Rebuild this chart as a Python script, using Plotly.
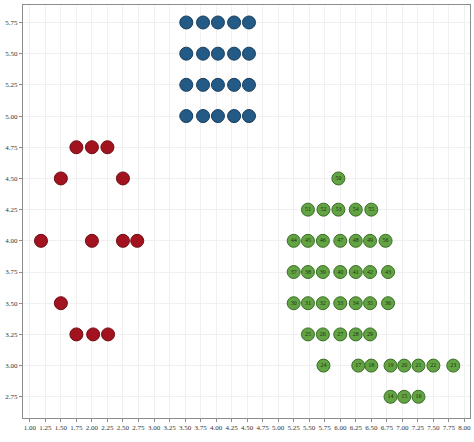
import plotly.graph_objs as go

# red group
red_x = [1.75, 2.0, 2.25, 1.5, 2.5, 1.18, 2.0, 2.5, 2.73, 1.5, 1.75, 2.02, 2.26]
red_y = [4.75, 4.75, 4.75, 4.5, 4.5, 4.0, 4.0, 4.0, 4.0, 3.5, 3.25, 3.25, 3.25]

# blue group
blue_x = [3.52, 3.79, 4.03, 4.29, 4.53] * 4
blue_y = [5.75] * 5 + [5.5] * 5 + [5.25] * 5 + [5.0] * 5

# green group (labelled)
green_x = [5.97,
           5.48, 5.73, 5.97, 6.25, 6.5,
           5.25, 5.48, 5.72, 6.0, 6.25, 6.48, 6.73,
           5.25, 5.48, 5.72, 6.0, 6.25, 6.48, 6.77,
           5.25, 5.48, 5.72, 6.0, 6.25, 6.48, 6.77,
           5.48, 5.72, 6.0, 6.25, 6.48,
           5.73, 6.29, 6.5, 6.81, 7.03, 7.26, 7.5, 7.82,
           6.81, 7.03, 7.26]
green_y = [4.5] + [4.25] * 5 + [4.0] * 7 + [3.75] * 7 + [3.5] * 7 + [3.25] * 5 + [3.0] * 8 + [2.75] * 3
green_lbl = ['50',
             '51', '52', '53', '54', '55',
             '44', '45', '46', '47', '48', '49', '56',
             '37', '38', '39', '40', '41', '42', '43',
             '30', '31', '32', '33', '34', '35', '36',
             '25', '26', '27', '28', '29',
             '24', '17', '18', '19', '20', '21', '22', '23',
             '14', '15', '16']

x_ticks = [1 + 0.25 * i for i in range(29)]
y_ticks = [2.75 + 0.25 * i for i in range(13)]

trace_red = go.Scatter(
    x=red_x, y=red_y, mode='markers',
    marker=dict(size=13, color='#a3121f', line=dict(color='#6e0d14', width=1))
)
trace_blue = go.Scatter(
    x=blue_x, y=blue_y, mode='markers',
    marker=dict(size=13, color='#245a86', line=dict(color='#173d5c', width=1))
)
trace_green = go.Scatter(
    x=green_x, y=green_y, mode='markers+text',
    text=green_lbl, textposition='middle center',
    textfont=dict(size=6, color='#1a3310', family='Liberation Sans Narrow'),
    marker=dict(size=13, color='#62a344', line=dict(color='#3b6e26', width=1))
)

axis_style = dict(
    showgrid=True, gridcolor='#f0f0f0', gridwidth=1,
    zeroline=False, automargin=False,
    showline=True, linecolor='#8c8c8c', linewidth=1, mirror=True,
    ticks='outside', ticklen=3, tickcolor='#8c8c8c',
    tickfont=dict(size=7, family='Liberation Sans Narrow', color='#333333')
)

layout = go.Layout(
    width=474, height=442,
    showlegend=False,
    paper_bgcolor='white',
    plot_bgcolor='white',
    margin=dict(l=23, r=4, t=5, b=24),
    xaxis=dict(
        range=[0.89, 8.09],
        tickvals=x_ticks,
        ticktext=['%.2f' % v for v in x_ticks],
        tickangle=0,
        **axis_style
    ),
    yaxis=dict(
        range=[2.58, 5.89],
        tickvals=y_ticks,
        ticktext=['%.2f' % v for v in y_ticks],
        **axis_style
    )
)

fig = go.Figure(data=[trace_red, trace_blue, trace_green], layout=layout)
# drop the browser's default 8px page margin so the figure sits at 0,0
fig.write_html("out.html", config={'displayModeBar': False},
               post_script="document.body.style.margin='0';")
